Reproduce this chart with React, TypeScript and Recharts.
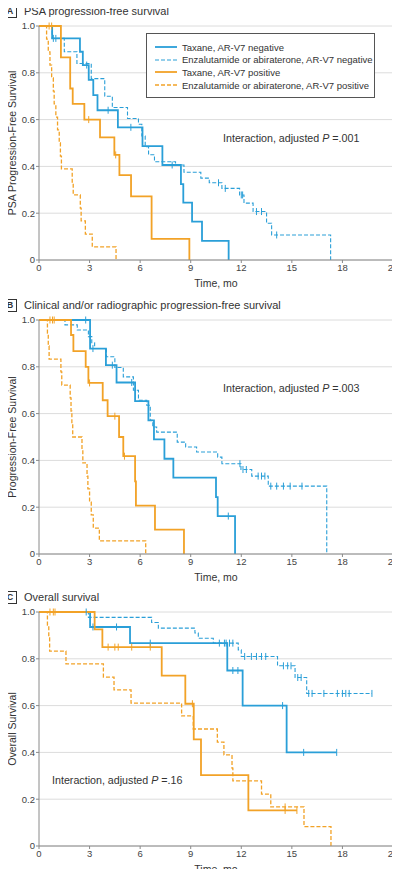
import { LineChart, Line, XAxis, YAxis, CartesianGrid } from "recharts";

type Pt = [number, number, number?];

const FONT = "'Liberation Sans', Arial, sans-serif";
const BLUE = "#2a9fd8";
const ORANGE = "#f2a227";

const xTicks = [0, 3, 6, 9, 12, 15, 18, 21];
const yTicks = [0, 0.2, 0.4, 0.6, 0.8, 1];
const seriesNames = [
    "Taxane, AR-V7 negative",
    "Enzalutamide or abiraterone, AR-V7 negative",
    "Taxane, AR-V7 positive",
    "Enzalutamide or abiraterone, AR-V7 positive",
];

// points are [months, survival, 1 if censored]
// A: PSA progression-free survival
const psaTaxaneNeg: Pt[] = [
    [0, 1], [0.78, 0.947], [0.85, 0.947, 1], [1.0, 0.947, 1], [2.43, 0.89], [2.6, 0.833], [2.83, 0.833, 1],
    [2.95, 0.77], [3.22, 0.705], [3.47, 0.64], [4.1, 0.64, 1], [4.68, 0.567], [5.45, 0.567, 1], [6.14, 0.487],
    [7.32, 0.406], [7.9, 0.406, 1], [8.42, 0.324], [8.56, 0.245], [9.08, 0.164], [9.67, 0.082], [11.25, 0],
];
const psaEnzaNeg: Pt[] = [
    [0, 1], [0.78, 0.947], [1.5, 0.89], [2.25, 0.84], [3.1, 0.775], [3.9, 0.7], [4.35, 0.652], [5.25, 0.605],
    [5.9, 0.58], [6.1, 0.53], [6.3, 0.484], [6.5, 0.45], [6.85, 0.42], [8.1, 0.406], [8.6, 0.375], [9.6, 0.35],
    [10.1, 0.33], [10.65, 0.33, 1], [10.85, 0.306], [11.05, 0.306, 1], [11.9, 0.278], [12.0, 0.278, 1],
    [12.08, 0.278, 1], [12.16, 0.243], [12.7, 0.207], [12.9, 0.207, 1], [13.2, 0.207, 1], [13.5, 0.157],
    [13.8, 0.107], [14.1, 0.107, 1], [17.3, 0],
];
const psaTaxanePos: Pt[] = [
    [0, 1], [0.6, 1, 1], [0.75, 1, 1], [1.3, 0.866], [1.85, 0.733], [2.0, 0.667], [2.69, 0.6], [2.95, 0.6, 1],
    [3.62, 0.524], [4.47, 0.449], [4.55, 0.449, 1], [4.77, 0.363], [5.46, 0.272], [6.68, 0.09], [8.92, 0],
];
const psaEnzaPos: Pt[] = [
    [0, 1], [0.45, 0.944], [0.55, 0.889], [0.65, 0.833], [0.75, 0.778], [0.85, 0.722], [0.9, 0.667],
    [1.0, 0.611], [1.1, 0.556], [1.2, 0.5], [1.27, 0.444], [1.33, 0.389], [1.97, 0.333], [2.03, 0.278],
    [2.45, 0.222], [2.5, 0.167], [2.75, 0.111], [3.16, 0.056], [4.57, 0],
];

// B: clinical and/or radiographic progression-free survival
const pfsTaxaneNeg: Pt[] = [
    [0, 1], [2.77, 1, 1], [3.03, 0.878], [3.2, 0.878, 1], [3.97, 0.807], [4.35, 0.807, 1], [4.6, 0.733],
    [5.5, 0.733, 1], [5.7, 0.653], [6.49, 0.571], [6.82, 0.49], [7.44, 0.407], [7.97, 0.326], [10.5, 0.243],
    [10.6, 0.162], [11.23, 0.162, 1], [11.63, 0],
];
const pfsEnzaNeg: Pt[] = [
    [0, 1], [1.54, 0.979], [2.27, 0.957], [2.93, 0.929], [3.13, 0.903], [3.3, 0.878], [4.0, 0.843], [4.5, 0.797],
    [5.0, 0.757], [5.6, 0.7], [5.9, 0.657], [6.39, 0.636], [6.6, 0.571], [6.75, 0.543], [6.98, 0.521],
    [8.2, 0.478], [8.7, 0.457], [9.35, 0.436], [10.6, 0.414], [10.85, 0.386], [11.92, 0.386, 1], [11.98, 0.361],
    [12.1, 0.361, 1], [12.3, 0.361, 1], [12.62, 0.333], [13.0, 0.333, 1], [13.2, 0.333, 1], [13.4, 0.333, 1],
    [13.6, 0.29], [13.75, 0.29, 1], [14.1, 0.29, 1], [14.5, 0.29, 1], [14.9, 0.29, 1], [15.6, 0.29, 1], [17.07, 0],
];
const pfsTaxanePos: Pt[] = [
    [0, 1], [0.65, 1, 1], [0.8, 1, 1], [0.9, 1, 1], [1.9, 0.936], [2.04, 0.867], [2.77, 0.8], [2.93, 0.731],
    [3.0, 0.731, 1], [3.78, 0.657], [4.07, 0.589], [4.5, 0.589, 1], [4.75, 0.5], [5.0, 0.418], [5.07, 0.418, 1],
    [5.7, 0.31], [5.75, 0.207], [6.88, 0.104], [8.6, 0],
];
const pfsEnzaPos: Pt[] = [
    [0, 1], [0.5, 0.944], [0.55, 0.889], [0.6, 0.833], [1.3, 0.778], [1.35, 0.722], [1.85, 0.667], [1.9, 0.611],
    [1.95, 0.556], [2.0, 0.5], [2.55, 0.444], [2.6, 0.389], [2.85, 0.333], [2.9, 0.278], [3.0, 0.222],
    [3.1, 0.167], [3.22, 0.111], [3.58, 0.056], [6.33, 0],
];

// C: overall survival
const osTaxaneNeg: Pt[] = [
    [0, 1], [3.03, 0.936], [3.2, 0.936, 1], [4.6, 0.936, 1], [5.4, 0.867], [6.6, 0.867, 1], [11.1, 0.867, 1],
    [11.17, 0.75], [11.5, 0.75, 1], [11.8, 0.75, 1], [12.08, 0.6], [14.45, 0.6, 1], [14.69, 0.4],
    [15.7, 0.4, 1], [17.66, 0.4, 1],
];
const osEnzaNeg: Pt[] = [
    [0, 1], [2.8, 1, 1], [2.93, 0.977], [6.68, 0.955], [7.08, 0.931], [9.25, 0.91], [9.45, 0.888],
    [10.34, 0.867], [10.7, 0.867, 1], [11.0, 0.867, 1], [11.3, 0.867, 1], [11.5, 0.867, 1], [11.82, 0.838],
    [12.0, 0.81], [12.2, 0.81, 1], [12.6, 0.81, 1], [12.9, 0.81, 1], [13.2, 0.81, 1], [13.45, 0.81, 1],
    [14.15, 0.77], [14.5, 0.77, 1], [14.75, 0.77, 1], [14.95, 0.77, 1], [15.19, 0.72], [15.35, 0.72, 1],
    [15.55, 0.72, 1], [15.88, 0.652], [16.0, 0.652, 1], [16.2, 0.652, 1], [16.9, 0.652, 1], [17.7, 0.652, 1],
    [18.0, 0.652, 1], [18.2, 0.652, 1], [18.4, 0.652, 1], [19.75, 0.652, 1],
];
const osTaxanePos: Pt[] = [
    [0, 1], [0.65, 1, 1], [0.85, 1, 1], [0.95, 1, 1], [3.3, 0.926], [3.76, 0.85], [4.1, 0.85, 1],
    [4.5, 0.85, 1], [4.7, 0.85, 1], [5.5, 0.85, 1], [6.6, 0.85, 1], [7.28, 0.728], [8.68, 0.608],
    [9.1, 0.608, 1], [9.18, 0.456], [9.61, 0.303], [12.42, 0.152], [14.6, 0.152, 1], [15.3, 0.152, 1],
];
const osEnzaPos: Pt[] = [
    [0, 1], [0.5, 0.944], [0.58, 0.889], [0.63, 0.833], [1.6, 0.778], [3.82, 0.722], [4.45, 0.667],
    [5.46, 0.611], [8.46, 0.556], [9.15, 0.5], [10.58, 0.444], [10.97, 0.389], [11.45, 0.333], [11.5, 0.278],
    [13.2, 0.222], [13.75, 0.167], [14.6, 0.167, 1], [15.72, 0.083], [17.32, 0],
];

const lineStyles = [
    { color: BLUE, dash: undefined, width: 1.8 },
    { color: BLUE, dash: "4 2", width: 1.1 },
    { color: ORANGE, dash: undefined, width: 1.8 },
    { color: ORANGE, dash: "4 2", width: 1.3 },
];

const toRows = (pts: Pt[]) => pts.map(([t, s, c]) => ({ t, s, c: c === 1 }));

const censorDot = (color: string) => (p: any) => {
    const { cx, cy, payload, index } = p;
    if (!payload || !payload.c || cx == null) return <g key={`d-${index}`} />;
    return <line key={`d-${index}`} x1={cx} x2={cx} y1={cy - 3.5} y2={cy + 3.5} stroke={color} strokeWidth={1} />;
};

// rotated y axis title, centred on the plot height
const yTitle = (text: string) => (props: any) => {
    const { x, y, height } = props.viewBox;
    const cx = x + 3;
    const cy = y + height / 2;
    return (
        <text x={cx} y={cy} transform={`rotate(-90 ${cx} ${cy})`} textAnchor="middle" dominantBaseline="central"
            fill="#333" fontSize={10.5}>{text}</text>
    );
};

const LegendBox = () => (
    <div style={{
        position: "absolute", left: 146, top: 33, width: 229, height: 65, border: "1px solid #555",
        background: "#fff", boxSizing: "border-box", paddingTop: 7,
    }}>
        {seriesNames.map((name, i) => (
            <div key={name} style={{ display: "flex", alignItems: "center", height: 12.6, fontSize: 9.5, whiteSpace: "nowrap" }}>
                <svg width={35} height={10} style={{ flex: "none" }}>
                    <line x1={8} x2={30} y1={5} y2={5} stroke={lineStyles[i].color}
                        strokeWidth={lineStyles[i].width} strokeDasharray={lineStyles[i].dash} />
                </svg>
                <span>{name}</span>
            </div>
        ))}
    </div>
);

type PanelProps = {
    top: number; letter: string; title: string; yLabel: string; pValue: string;
    pLeft: number; pTop: number; curves: Pt[][]; legend?: boolean;
};

const Panel = ({ top, letter, title, yLabel, pValue, pLeft, pTop, curves, legend }: PanelProps) => (
    <div style={{ position: "absolute", left: 0, top, width: 400, height: 291 }}>
        <LineChart width={400} height={291} margin={{ top: 26, right: 7, bottom: 1, left: 9 }} style={{ fontFamily: FONT }}>
            <CartesianGrid vertical={false} stroke="#dcdcdc" />
            <XAxis type="number" dataKey="t" domain={[0, 21]} ticks={xTicks} height={30} tickSize={3} tickMargin={1}
                stroke="#8a8a8a" tick={{ fill: "#444", fontSize: 9.5 }}
                label={{ value: "Time, mo", position: "insideBottom", offset: 3, fill: "#333", fontSize: 10.5 }} />
            <YAxis type="number" domain={[0, 1]} ticks={yTicks} width={30} tickSize={3} tickMargin={1}
                stroke="#8a8a8a" tick={{ fill: "#444", fontSize: 9.5 }}
                tickFormatter={(v: number) => (v === 0 ? "0" : v.toFixed(1))}
                label={{ content: yTitle(yLabel) }} />
            {curves.map((pts, i) => (
                <Line key={i} data={toRows(pts)} dataKey="s" type="stepAfter" stroke={lineStyles[i].color}
                    strokeWidth={lineStyles[i].width} strokeDasharray={lineStyles[i].dash}
                    dot={censorDot(lineStyles[i].color)} activeDot={false} isAnimationActive={false} />
            ))}
        </LineChart>
        <div style={{
            position: "absolute", left: 3, top: 5, width: 12, height: 11, border: "1px solid #333",
            fontSize: 9, fontWeight: "bold", lineHeight: "11px", textAlign: "center",
        }}>{letter}</div>
        <div style={{ position: "absolute", left: 24, top: 4, fontSize: 11, lineHeight: "14px", whiteSpace: "nowrap" }}>{title}</div>
        <div style={{ position: "absolute", left: pLeft, top: pTop, fontSize: 10.7, lineHeight: "14px", whiteSpace: "nowrap" }}>
            Interaction, adjusted <i>P</i> ={pValue}
        </div>
        {legend && <LegendBox />}
    </div>
);

export default function App() {
    return (
        <div style={{ position: "relative", width: 400, height: 877, margin: -8, background: "#fff", fontFamily: FONT, color: "#333" }}>
            <Panel top={0} letter="A" title="PSA progression-free survival" yLabel="PSA Progression-Free Survival"
                pValue=".001" pLeft={223} pTop={131} legend
                curves={[psaTaxaneNeg, psaEnzaNeg, psaTaxanePos, psaEnzaPos]} />
            <Panel top={294} letter="B" title="Clinical and/or radiographic progression-free survival" yLabel="Progression-Free Survival"
                pValue=".003" pLeft={223} pTop={87}
                curves={[pfsTaxaneNeg, pfsEnzaNeg, pfsTaxanePos, pfsEnzaPos]} />
            <Panel top={586} letter="C" title="Overall survival" yLabel="Overall Survival"
                pValue=".16" pLeft={52} pTop={187}
                curves={[osTaxaneNeg, osEnzaNeg, osTaxanePos, osEnzaPos]} />
        </div>
    );
}
